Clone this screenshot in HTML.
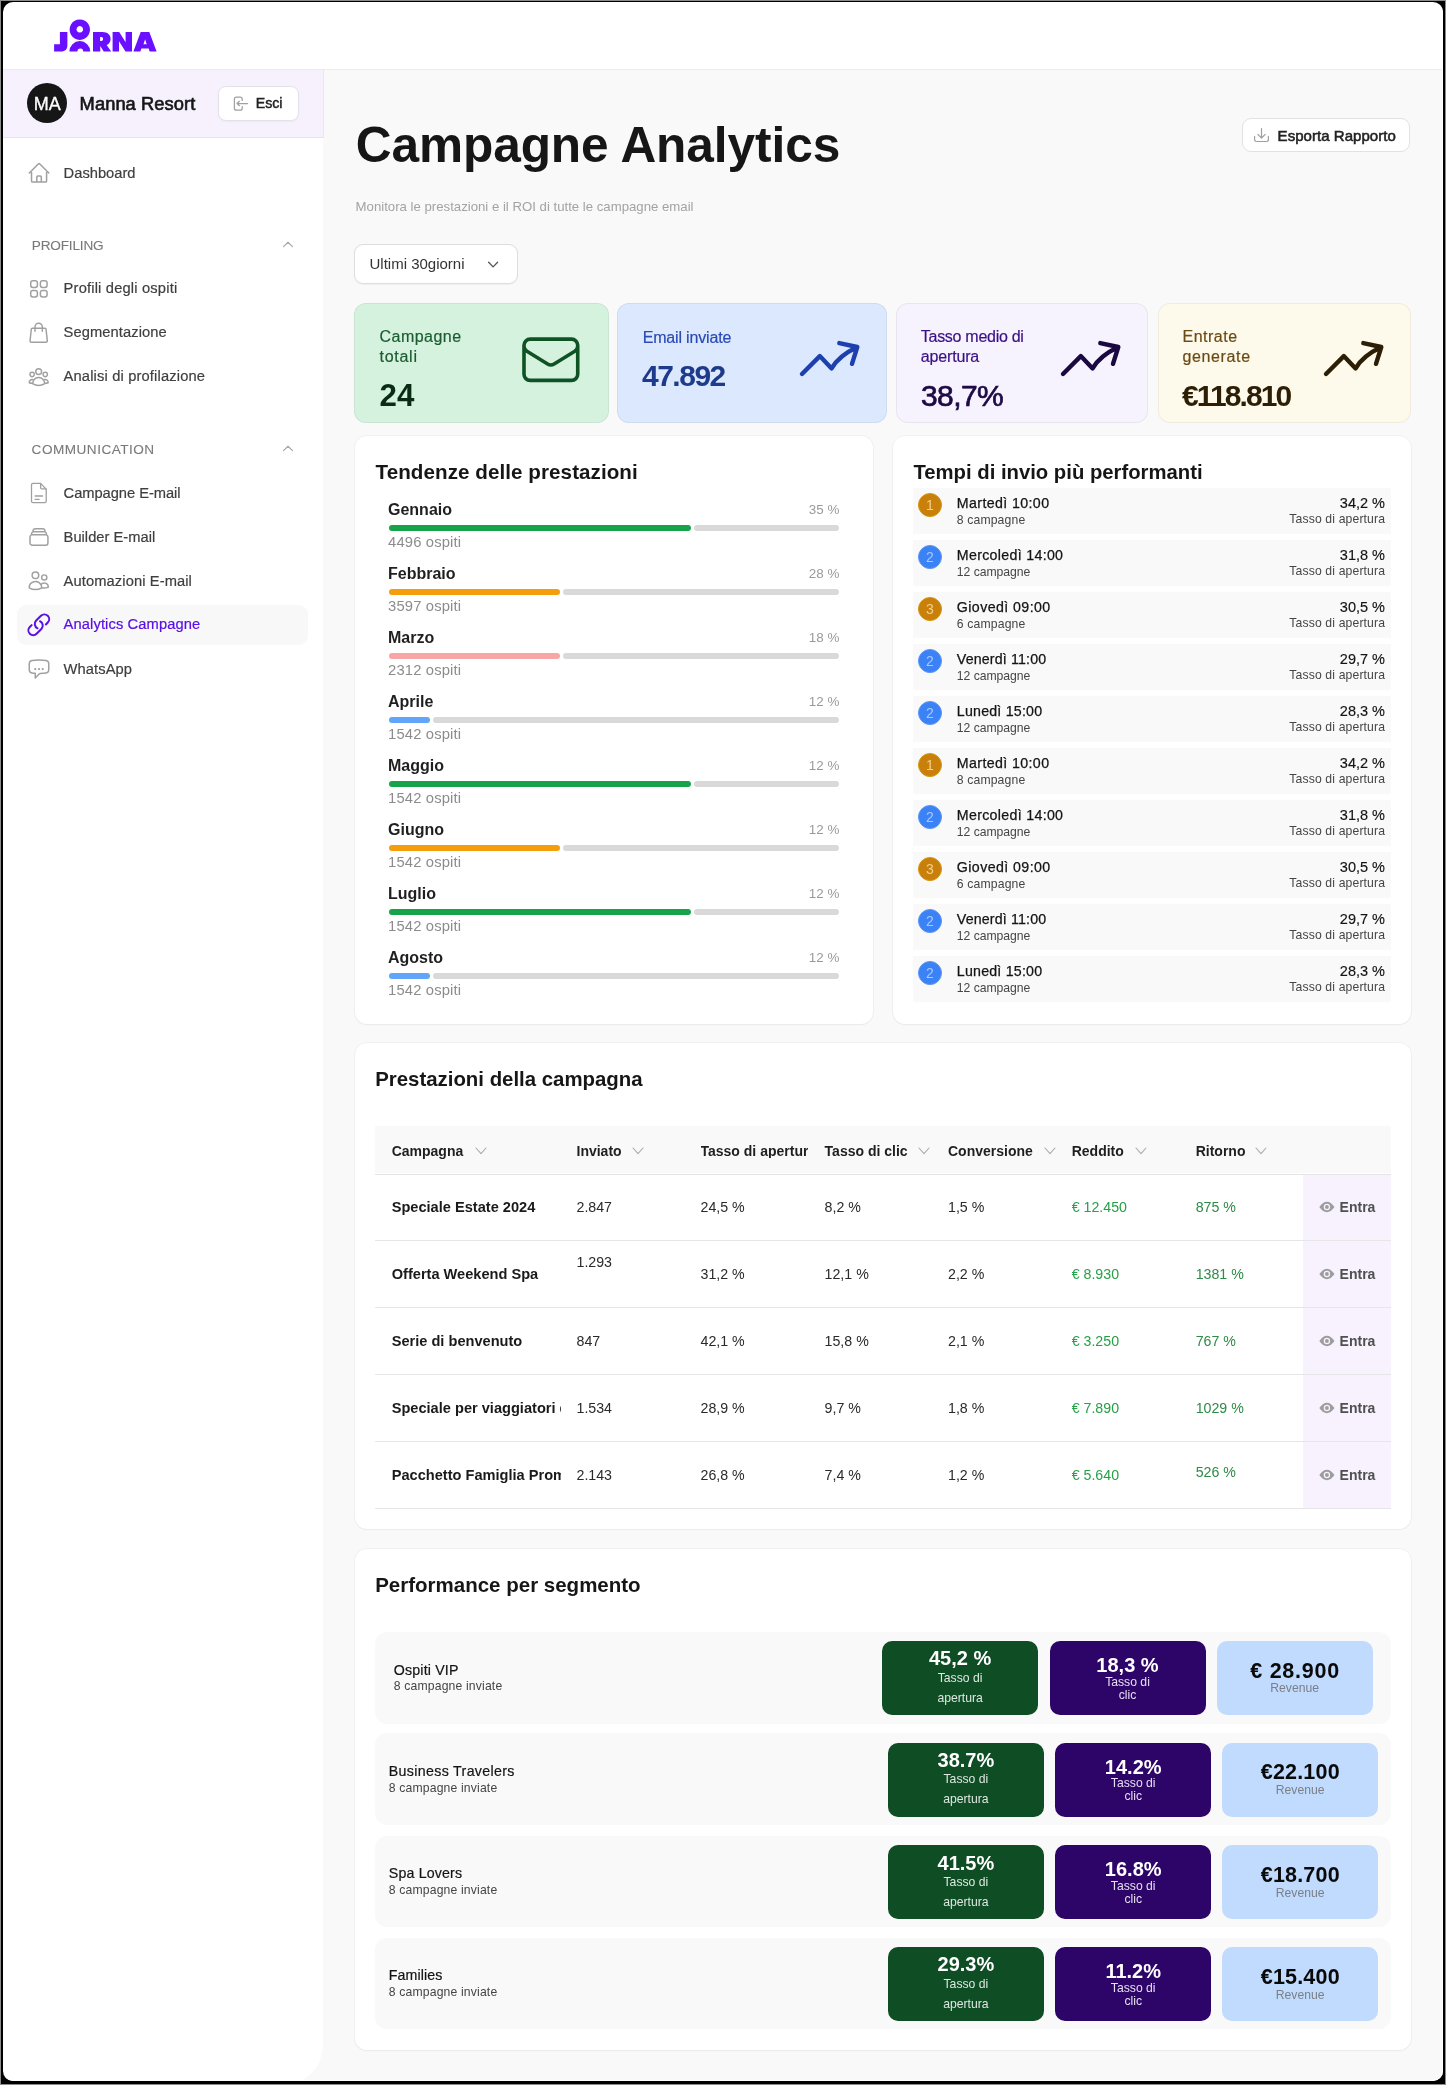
<!DOCTYPE html>
<html><head><meta charset="utf-8"><title>Campagne Analytics</title>
<style>
*{margin:0;padding:0;box-sizing:border-box;}
html,body{width:1446px;height:2085px;overflow:hidden;background:#000;}
body{position:relative;font-family:"Liberation Sans",sans-serif;}
.t{position:absolute;line-height:1;white-space:nowrap;}
#w{position:absolute;left:0;top:0;width:1446px;height:2085px;will-change:transform;}
.r{position:absolute;}
</style></head><body>
<div id="w">
<div class="r" style="left:0.00px;top:0.00px;width:1446.00px;height:2085.00px;background:#f9f9f9;border-radius:0px;"></div>
<div class="r" style="left:0.00px;top:0.00px;width:1446.00px;height:69.00px;background:#ffffff;border-radius:0px;"></div>
<div class="r" style="left:0.00px;top:69.00px;width:1446.00px;height:1.00px;background:#ececec;border-radius:0px;"></div>
<div class="r" style="left:0.00px;top:70.00px;width:323.00px;height:2015.00px;background:#ffffff;border-radius:0px;border-bottom-right-radius:40px;"></div>
<div class="r" style="left:0.00px;top:70.00px;width:323.00px;height:67.00px;background:#f6f1fd;border-radius:0px;"></div>
<div class="r" style="left:0.00px;top:137.00px;width:323.00px;height:1.00px;background:#e6e3ea;border-radius:0px;"></div>
<div class="r" style="left:323.00px;top:69.00px;width:1.00px;height:69.00px;background:#e8e8ea;border-radius:0px;"></div>
<svg class="r" style="left:50.00px;top:15.00px;" width="115" height="42" viewBox="50 15 115 42" fill="none"><g fill="#6a0fff" fill-rule="evenodd">
<path d="M59.9,32 H67.4 V45.5 C67.4,49.3 65,51.5 61.2,51.5 H54.1 V44.3 H59.9 Z"/>
<path d="M79.8,19.5 a10.2,10.2 0 1 1 -0.01,0 Z M79.8,26 a3.3,3.3 0 1 0 0.01,0 Z"/>
<path d="M69.4,51.5 A10.4,10.4 0 0 1 90.2,51.5 Z M77.4,51.5 A2.9,2.9 0 0 1 83.2,51.5 Z"/>
<path d="M93,32 H102.5 C107.6,32 110.6,34.8 110.6,38.9 C110.6,41.9 108.9,44.1 106.6,45.1 L111.2,51.5 H103.7 L100.3,46 V51.5 H93 Z M100.1,37.1 H101.4 C102.5,37.1 103.1,37.9 103.1,39 C103.1,40.1 102.5,40.9 101.4,40.9 H100.1 Z"/>
<path d="M112.6,51.5 V32 H119.2 L125.6,42.2 V32 H132 V51.5 H125.5 L119,41.3 V51.5 Z"/>
<path d="M133.4,51.5 L140.7,32 H149.3 L156.6,51.5 H149.6 L148.7,48.6 H141.3 L140.4,51.5 Z M143.5,44.2 H146.7 L145.1,39.2 Z"/>
</g></svg>
<div class="r" style="left:27.00px;top:83.00px;width:40.00px;height:40.00px;background:#161616;border-radius:20px;"></div>
<div class="t" style="top:95.36px;font-size:18px;color:#ffffff;-webkit-text-stroke:0.3px #ffffff;left:-252.80px;width:600px;text-align:center;">MA</div>
<div class="t" style="top:95.21px;font-size:18.3px;color:#161616;letter-spacing:0.074px;-webkit-text-stroke:0.65px #161616;left:79.60px;">Manna Resort</div>
<div class="r" style="left:217.50px;top:86.00px;width:81.00px;height:35.00px;background:#ffffff;border-radius:8px;border:1px solid #e4e2e8;box-shadow:0 1px 2px rgba(0,0,0,0.04);"></div>
<svg class="r" style="left:228.00px;top:92.00px;" width="26" height="22" viewBox="228 92 26 22" fill="none"><g stroke="#a0a0a0" stroke-width="1.25" stroke-linecap="round" stroke-linejoin="round"><path d="M242.2,100.4 V99 Q242.2,97 240.2,97 H236.4 Q234.4,97 234.4,99 V108.2 Q234.4,110.2 236.4,110.2 H240.2 Q242.2,110.2 242.2,108.2 V106.6"/><path d="M239.4,101.3 L237,103.5 L239.4,105.7 M237.2,103.5 H247.6"/></g></svg>
<div class="t" style="top:96.48px;font-size:14.2px;color:#222;letter-spacing:-0.104px;-webkit-text-stroke:0.45px #222;left:255.80px;">Esci</div>
<svg class="r" style="left:26.89px;top:160.79px;" width="24.119476916980375" height="24.119476916980375" viewBox="0 0 24 24" fill="none"><path d="m2.25 12 8.954-8.955c.44-.439 1.152-.439 1.591 0L21.75 12M4.5 9.75v10.125c0 .621.504 1.125 1.125 1.125H9.75v-4.875c0-.621.504-1.125 1.125-1.125h2.25c.621 0 1.125.504 1.125 1.125V21h4.125c.621 0 1.125-.504 1.125-1.125V9.75M8.25 21h8.25" stroke="#a0a0a0" stroke-width="1.5" stroke-linecap="round" stroke-linejoin="round" fill="none"/></svg>
<div class="t" style="top:165.76px;font-size:14.7px;color:#3f3f3f;letter-spacing:0.003px;-webkit-text-stroke:0.2px #3f3f3f;left:63.60px;">Dashboard</div>
<div class="t" style="top:238.69px;font-size:13.6px;color:#7a7a7a;letter-spacing:-0.171px;-webkit-text-stroke:0.1px #7a7a7a;left:31.80px;">PROFILING</div>
<svg class="r" style="left:280.00px;top:238.00px;" width="16" height="12" viewBox="280 238 16 12" fill="none"><path d="M283.5,246.6 L288,242.3 L292.5,246.6" stroke="#a8a8a8" stroke-width="1.2" fill="none" stroke-linecap="round" stroke-linejoin="round"/></svg>
<svg class="r" style="left:27.03px;top:277.02px;" width="23.799999999999994" height="23.799999999999994" viewBox="0 0 24 24" fill="none"><path d="M3.75 6A2.25 2.25 0 0 1 6 3.75h2.25A2.25 2.25 0 0 1 10.5 6v2.25a2.25 2.25 0 0 1-2.25 2.25H6a2.25 2.25 0 0 1-2.25-2.25V6ZM3.75 15.75A2.25 2.25 0 0 1 6 13.5h2.25a2.25 2.25 0 0 1 2.25 2.25V18a2.25 2.25 0 0 1-2.25 2.25H6A2.25 2.25 0 0 1 3.75 18v-2.25ZM13.5 6a2.25 2.25 0 0 1 2.25-2.25H18A2.25 2.25 0 0 1 20.25 6v2.25A2.25 2.25 0 0 1 18 10.5h-2.25a2.25 2.25 0 0 1-2.25-2.25V6ZM13.5 15.75a2.25 2.25 0 0 1 2.25-2.25H18a2.25 2.25 0 0 1 2.25 2.25V18A2.25 2.25 0 0 1 18 20.25h-2.25A2.25 2.25 0 0 1 13.5 18v-2.25Z" stroke="#a0a0a0" stroke-width="1.5" stroke-linecap="round" stroke-linejoin="round" fill="none"/></svg>
<div class="t" style="top:281.46px;font-size:14.7px;color:#3f3f3f;letter-spacing:0.177px;-webkit-text-stroke:0.2px #3f3f3f;left:63.60px;">Profili degli ospiti</div>
<svg class="r" style="left:27.37px;top:321.14px;" width="23.34464285714284" height="23.34464285714284" viewBox="0 0 24 24" fill="none"><path d="M15.75 10.5V6a3.75 3.75 0 1 0-7.5 0v4.5m11.356-1.993 1.263 12c.07.665-.45 1.243-1.119 1.243H4.25a1.125 1.125 0 0 1-1.12-1.243l1.264-12A1.125 1.125 0 0 1 5.513 7.5h12.974c.576 0 1.059.435 1.119 1.007Z" stroke="#a0a0a0" stroke-width="1.5" stroke-linecap="round" stroke-linejoin="round" fill="none"/></svg>
<div class="t" style="top:325.36px;font-size:14.7px;color:#3f3f3f;letter-spacing:0.092px;-webkit-text-stroke:0.2px #3f3f3f;left:63.60px;">Segmentazione</div>
<svg class="r" style="left:27.14px;top:365.28px;" width="23.36914285714286" height="23.36914285714286" viewBox="0 0 24 24" fill="none"><path d="M18 18.72a9.094 9.094 0 0 0 3.741-.479 3 3 0 0 0-4.682-2.72m.94 3.198.001.031c0 .225-.012.447-.037.666A11.944 11.944 0 0 1 12 21c-2.17 0-4.207-.576-5.963-1.584A6.062 6.062 0 0 1 6 18.719m12 0a5.971 5.971 0 0 0-.941-3.197m0 0A5.995 5.995 0 0 0 12 12.75a5.995 5.995 0 0 0-5.058 2.772m0 0a3 3 0 0 0-4.681 2.72 8.986 8.986 0 0 0 3.74.477m.94-3.197a5.971 5.971 0 0 0-.94 3.197M15 6.75a3 3 0 1 1-6 0 3 3 0 0 1 6 0Zm6 3a2.25 2.25 0 1 1-4.5 0 2.25 2.25 0 0 1 4.5 0Zm-13.5 0a2.25 2.25 0 1 1-4.5 0 2.25 2.25 0 0 1 4.5 0Z" stroke="#a0a0a0" stroke-width="1.5" stroke-linecap="round" stroke-linejoin="round" fill="none"/></svg>
<div class="t" style="top:369.36px;font-size:14.7px;color:#3f3f3f;letter-spacing:0.154px;-webkit-text-stroke:0.2px #3f3f3f;left:63.60px;">Analisi di profilazione</div>
<div class="t" style="top:442.59px;font-size:13.6px;color:#7a7a7a;letter-spacing:0.477px;-webkit-text-stroke:0.1px #7a7a7a;left:31.60px;">COMMUNICATION</div>
<svg class="r" style="left:280.00px;top:442.00px;" width="16" height="12" viewBox="280 442 16 12" fill="none"><path d="M283.5,450.6 L288,446.3 L292.5,450.6" stroke="#a8a8a8" stroke-width="1.2" fill="none" stroke-linecap="round" stroke-linejoin="round"/></svg>
<svg class="r" style="left:28.00px;top:480.00px;" width="22" height="26" viewBox="28 480 22 26" fill="none"><g stroke="#a0a0a0" stroke-width="1.3" fill="none" stroke-linecap="round" stroke-linejoin="round"><path d="M33,483.4 H40.6 L46.2,489.2 V501.2 Q46.2,502.7 44.7,502.7 H33 Q31.5,502.7 31.5,501.2 V484.9 Q31.5,483.4 33,483.4 Z"/><path d="M40.6,483.6 V487.6 Q40.6,488.9 41.9,488.9 H46"/><path d="M35.1,496 H42.6 M35.1,499.3 H39.2"/></g></svg>
<div class="t" style="top:485.56px;font-size:14.7px;color:#3f3f3f;letter-spacing:-0.041px;-webkit-text-stroke:0.2px #3f3f3f;left:63.60px;">Campagne E-mail</div>
<svg class="r" style="left:27.06px;top:525.01px;" width="23.928205128205096" height="23.928205128205096" viewBox="0 0 24 24" fill="none"><path d="M6 6.878V6a2.25 2.25 0 0 1 2.25-2.25h7.5A2.25 2.25 0 0 1 18 6v.878m-12 0c.235-.083.487-.128.75-.128h10.5c.263 0 .515.045.75.128m-12 0A2.25 2.25 0 0 0 4.5 9v.878m13.5-3A2.25 2.25 0 0 1 19.5 9v.878m0 0a2.246 2.246 0 0 0-.75-.128H5.25c-.263 0-.515.045-.75.128m15 0A2.25 2.25 0 0 1 21 12v6a2.25 2.25 0 0 1-2.25 2.25H5.25A2.25 2.25 0 0 1 3 18v-6c0-.98.626-1.813 1.5-2.122" stroke="#a0a0a0" stroke-width="1.5" stroke-linecap="round" stroke-linejoin="round" fill="none"/></svg>
<div class="t" style="top:529.56px;font-size:14.7px;color:#3f3f3f;letter-spacing:0.012px;-webkit-text-stroke:0.2px #3f3f3f;left:63.60px;">Builder E-mail</div>
<svg class="r" style="left:26.93px;top:569.40px;" width="23.507692307692267" height="23.507692307692267" viewBox="0 0 24 24" fill="none"><path d="M15 19.128a9.38 9.38 0 0 0 2.625.372 9.337 9.337 0 0 0 4.121-.952 4.125 4.125 0 0 0-7.533-2.493M15 19.128v-.003c0-1.113-.285-2.16-.786-3.07M15 19.128v.106A12.318 12.318 0 0 1 8.624 21c-2.331 0-4.512-.645-6.374-1.766l-.001-.109a6.375 6.375 0 0 1 11.964-3.07M12 6.375a3.375 3.375 0 1 1-6.75 0 3.375 3.375 0 0 1 6.75 0Zm8.25 2.25a2.625 2.625 0 1 1-5.25 0 2.625 2.625 0 0 1 5.25 0Z" stroke="#a0a0a0" stroke-width="1.5" stroke-linecap="round" stroke-linejoin="round" fill="none"/></svg>
<div class="t" style="top:573.56px;font-size:14.7px;color:#3f3f3f;letter-spacing:0.103px;-webkit-text-stroke:0.2px #3f3f3f;left:63.60px;">Automazioni E-mail</div>
<div class="r" style="left:17.00px;top:605.00px;width:291.00px;height:40.00px;background:#f8f8f8;border-radius:9px;"></div>
<svg class="r" style="left:26.17px;top:612.27px;" width="25.56000000000001" height="25.56000000000001" viewBox="0 0 24 24" fill="none"><path d="M13.19 8.688a4.5 4.5 0 0 1 1.242 7.244l-4.5 4.5a4.5 4.5 0 0 1-6.364-6.364l1.757-1.757m13.35-.622 1.757-1.757a4.5 4.5 0 0 0-6.364-6.364l-4.5 4.5a4.5 4.5 0 0 0 1.242 7.244" stroke="#5b10e6" stroke-width="1.9" stroke-linecap="round" stroke-linejoin="round" fill="none"/></svg>
<div class="t" style="top:617.26px;font-size:14.7px;color:#5b10e6;letter-spacing:0.116px;-webkit-text-stroke:0.2px #5b10e6;left:63.60px;">Analytics Campagne</div>
<svg class="r" style="left:26.90px;top:656.95px;" width="24.0" height="24.0" viewBox="0 0 24 24" fill="none"><path d="M8.625 12a.375.375 0 1 1-.75 0 .375.375 0 0 1 .75 0Zm0 0H8.25m4.125 0a.375.375 0 1 1-.75 0 .375.375 0 0 1 .75 0Zm0 0H12m4.125 0a.375.375 0 1 1-.75 0 .375.375 0 0 1 .75 0Zm0 0h-.375M2.25 12.76c0 1.6 1.123 2.994 2.707 3.227 1.087.16 2.185.283 3.293.369V21l4.184-4.183a1.14 1.14 0 0 1 .778-.332 48.294 48.294 0 0 0 5.83-.498c1.585-.233 2.708-1.626 2.708-3.228V6.741c0-1.602-1.123-2.995-2.707-3.228A48.394 48.394 0 0 0 12 3c-2.392 0-4.744.175-7.043.513C3.373 3.746 2.25 5.14 2.25 6.741v6.018Z" stroke="#a0a0a0" stroke-width="1.5" stroke-linecap="round" stroke-linejoin="round" fill="none"/></svg>
<div class="t" style="top:661.56px;font-size:14.7px;color:#3f3f3f;letter-spacing:0.091px;-webkit-text-stroke:0.2px #3f3f3f;left:63.60px;">WhatsApp</div>
<div class="t" style="top:121.01px;font-size:49.6px;color:#161616;font-weight:700;letter-spacing:-0.086px;left:355.70px;">Campagne Analytics</div>
<div class="t" style="top:200.43px;font-size:13.2px;color:#a3a3a3;left:355.60px;">Monitora le prestazioni e il ROI di tutte le campagne email</div>
<div class="r" style="left:354.30px;top:244.30px;width:163.50px;height:39.40px;background:#ffffff;border-radius:9px;border:1px solid #dddddd;box-shadow:0 1px 1px rgba(0,0,0,0.04);"></div>
<div class="t" style="top:256.20px;font-size:15px;color:#333333;left:369.50px;">Ultimi 30giorni</div>
<svg class="r" style="left:485.00px;top:258.00px;" width="16" height="12" viewBox="485 258 16 12" fill="none"><path d="M488.6,262.2 L493.1,266.9 L497.6,262.2" stroke="#555" stroke-width="1.3" fill="none" stroke-linecap="round" stroke-linejoin="round"/></svg>
<div class="r" style="left:1241.50px;top:117.50px;width:168.00px;height:34.80px;background:#ffffff;border-radius:9px;border:1px solid #e2e2e2;"></div>
<svg class="r" style="left:1250.00px;top:124.00px;" width="24" height="22" viewBox="1250 124 24 22" fill="none"><path d="M1254.6,136.4 V139.6 Q1254.6,141.5 1256.5,141.5 H1266.5 Q1268.4,141.5 1268.4,139.6 V136.4 M1261.5,128.6 V138 M1257.8,134.3 L1261.5,138 L1265.2,134.3" stroke="#a0a0a0" stroke-width="1.2" fill="none" stroke-linecap="round" stroke-linejoin="round"/></svg>
<div class="t" style="top:127.50px;font-size:15px;color:#222222;letter-spacing:0.04px;-webkit-text-stroke:0.55px #222222;left:1277.60px;">Esporta Rapporto</div>
<div class="r" style="left:354.30px;top:302.50px;width:254.40px;height:120.80px;background:#d5f2df;border-radius:12px;border:1px solid rgba(0,0,0,0.055);"></div>
<div class="r" style="left:617.40px;top:302.50px;width:269.40px;height:120.80px;background:#dbe8fd;border-radius:12px;border:1px solid rgba(0,0,0,0.055);"></div>
<div class="r" style="left:895.70px;top:302.50px;width:252.70px;height:120.80px;background:#f7f3fe;border-radius:12px;border:1px solid rgba(0,0,0,0.055);"></div>
<div class="r" style="left:1157.70px;top:302.50px;width:253.70px;height:120.80px;background:#fefaeb;border-radius:12px;border:1px solid rgba(0,0,0,0.055);"></div>
<div class="t" style="top:329.26px;font-size:16px;color:#1c5c30;letter-spacing:0.482px;-webkit-text-stroke:0.2px #1c5c30;left:379.50px;">Campagne</div>
<div class="t" style="top:349.26px;font-size:16px;color:#1c5c30;letter-spacing:0.731px;-webkit-text-stroke:0.2px #1c5c30;left:379.50px;">totali</div>
<div class="t" style="top:379.80px;font-size:31.3px;color:#0b2b15;font-weight:700;left:379.50px;">24</div>
<svg class="r" style="left:518.00px;top:333.00px;" width="66" height="54" viewBox="518 333 66 54" fill="none"><path transform="translate(517.80,326.70) scale(2.755)" d="M21.75 6.75v10.5a2.25 2.25 0 0 1-2.25 2.25h-15a2.25 2.25 0 0 1-2.25-2.25V6.75m19.5 0A2.25 2.25 0 0 0 19.5 4.5h-15a2.25 2.25 0 0 0-2.25 2.25m19.5 0v.243a2.25 2.25 0 0 1-1.07 1.916l-7.5 4.615a2.25 2.25 0 0 1-2.36 0L3.32 8.91a2.25 2.25 0 0 1-1.07-1.916V6.75" stroke="#0f5224" stroke-width="1.307" fill="none" stroke-linecap="round" stroke-linejoin="round"/></svg>
<div class="t" style="top:329.56px;font-size:16px;color:#2c4ab6;letter-spacing:-0.173px;-webkit-text-stroke:0.2px #2c4ab6;left:642.70px;">Email inviate</div>
<div class="t" style="top:360.91px;font-size:30px;color:#1e3a8a;font-weight:700;letter-spacing:-1.5px;left:642.00px;">47.892</div>
<div class="t" style="top:329.26px;font-size:16px;color:#3a1086;letter-spacing:-0.278px;-webkit-text-stroke:0.2px #3a1086;left:920.80px;">Tasso medio di</div>
<div class="t" style="top:349.26px;font-size:16px;color:#3a1086;letter-spacing:-0.163px;-webkit-text-stroke:0.2px #3a1086;left:920.80px;">apertura</div>
<div class="t" style="top:380.91px;font-size:30px;color:#1e0a45;letter-spacing:-0.6px;-webkit-text-stroke:0.7px #1e0a45;left:921.00px;">38,7%</div>
<div class="t" style="top:329.26px;font-size:16px;color:#6b4a14;letter-spacing:0.496px;-webkit-text-stroke:0.2px #6b4a14;left:1182.50px;">Entrate</div>
<div class="t" style="top:349.26px;font-size:16px;color:#6b4a14;letter-spacing:0.626px;-webkit-text-stroke:0.2px #6b4a14;left:1182.50px;">generate</div>
<div class="t" style="top:380.91px;font-size:30px;color:#2d1e06;font-weight:700;letter-spacing:-1.9px;left:1182.00px;">€118.810</div>
<svg class="r" style="left:796.50px;top:337.20px;" width="66" height="42" viewBox="796.5 337.2 66 42" fill="none"><path d="M801.5,374.2 L819.3,356.3 L831.1,368.6 Q838.0,356.2 856.8,347.2 M838.8,343.3 L856.8,347.2 L851.5,364.0" stroke="#1e40af" stroke-width="4.4" fill="none" stroke-linecap="round" stroke-linejoin="round"/></svg>
<svg class="r" style="left:1058.20px;top:337.40px;" width="66" height="42" viewBox="1058.2 337.4 66 42" fill="none"><path d="M1063.2,374.4 L1081.0,356.5 L1092.8,368.8 Q1099.7,356.4 1118.5,347.4 M1100.5,343.5 L1118.5,347.4 L1113.2,364.2" stroke="#1a0841" stroke-width="4.4" fill="none" stroke-linecap="round" stroke-linejoin="round"/></svg>
<svg class="r" style="left:1321.20px;top:337.40px;" width="66" height="42" viewBox="1321.2 337.4 66 42" fill="none"><path d="M1326.2,374.4 L1344.0,356.5 L1355.8,368.8 Q1362.7,356.4 1381.5,347.4 M1363.5,343.5 L1381.5,347.4 L1376.2,364.2" stroke="#2d1e06" stroke-width="4.4" fill="none" stroke-linecap="round" stroke-linejoin="round"/></svg>
<div class="r" style="left:355.00px;top:436.00px;width:518.00px;height:587.50px;background:#ffffff;border-radius:12px;box-shadow:0 0 0 1px rgba(0,0,0,0.03), 0 1px 2px rgba(0,0,0,0.035);"></div>
<div class="t" style="top:461.76px;font-size:20.6px;color:#161616;font-weight:700;letter-spacing:0.064px;left:375.60px;">Tendenze delle prestazioni</div>
<div class="t" style="top:502.46px;font-size:16px;color:#1f1f1f;font-weight:700;left:388.00px;">Gennaio</div>
<div class="t" style="top:503.26px;font-size:13.4px;color:#9a9a9a;right:606.70px;text-align:right;">35 %</div>
<div class="r" style="left:388.60px;top:524.70px;width:302.90px;height:6.10px;background:#16a34a;border-radius:3px;"></div>
<div class="r" style="left:694.40px;top:524.70px;width:144.90px;height:6.10px;background:#d9d9d9;border-radius:3px;"></div>
<div class="t" style="top:534.77px;font-size:14.8px;color:#8c8c8c;letter-spacing:0.15px;left:388.00px;">4496 ospiti</div>
<div class="t" style="top:566.46px;font-size:16px;color:#1f1f1f;font-weight:700;left:388.00px;">Febbraio</div>
<div class="t" style="top:567.26px;font-size:13.4px;color:#9a9a9a;right:606.70px;text-align:right;">28 %</div>
<div class="r" style="left:388.60px;top:588.70px;width:171.10px;height:6.10px;background:#f59e0b;border-radius:3px;"></div>
<div class="r" style="left:562.60px;top:588.70px;width:276.70px;height:6.10px;background:#d9d9d9;border-radius:3px;"></div>
<div class="t" style="top:598.77px;font-size:14.8px;color:#8c8c8c;letter-spacing:0.15px;left:388.00px;">3597 ospiti</div>
<div class="t" style="top:630.46px;font-size:16px;color:#1f1f1f;font-weight:700;left:388.00px;">Marzo</div>
<div class="t" style="top:631.26px;font-size:13.4px;color:#9a9a9a;right:606.70px;text-align:right;">18 %</div>
<div class="r" style="left:388.60px;top:652.70px;width:171.10px;height:6.10px;background:#f8a5a5;border-radius:3px;"></div>
<div class="r" style="left:562.60px;top:652.70px;width:276.70px;height:6.10px;background:#d9d9d9;border-radius:3px;"></div>
<div class="t" style="top:662.77px;font-size:14.8px;color:#8c8c8c;letter-spacing:0.15px;left:388.00px;">2312 ospiti</div>
<div class="t" style="top:694.46px;font-size:16px;color:#1f1f1f;font-weight:700;left:388.00px;">Aprile</div>
<div class="t" style="top:695.26px;font-size:13.4px;color:#9a9a9a;right:606.70px;text-align:right;">12 %</div>
<div class="r" style="left:388.60px;top:716.70px;width:41.30px;height:6.10px;background:#60a5fa;border-radius:3px;"></div>
<div class="r" style="left:432.80px;top:716.70px;width:406.50px;height:6.10px;background:#d9d9d9;border-radius:3px;"></div>
<div class="t" style="top:726.77px;font-size:14.8px;color:#8c8c8c;letter-spacing:0.15px;left:388.00px;">1542 ospiti</div>
<div class="t" style="top:758.46px;font-size:16px;color:#1f1f1f;font-weight:700;left:388.00px;">Maggio</div>
<div class="t" style="top:759.26px;font-size:13.4px;color:#9a9a9a;right:606.70px;text-align:right;">12 %</div>
<div class="r" style="left:388.60px;top:780.70px;width:302.90px;height:6.10px;background:#16a34a;border-radius:3px;"></div>
<div class="r" style="left:694.40px;top:780.70px;width:144.90px;height:6.10px;background:#d9d9d9;border-radius:3px;"></div>
<div class="t" style="top:790.77px;font-size:14.8px;color:#8c8c8c;letter-spacing:0.15px;left:388.00px;">1542 ospiti</div>
<div class="t" style="top:822.46px;font-size:16px;color:#1f1f1f;font-weight:700;left:388.00px;">Giugno</div>
<div class="t" style="top:823.26px;font-size:13.4px;color:#9a9a9a;right:606.70px;text-align:right;">12 %</div>
<div class="r" style="left:388.60px;top:844.70px;width:171.10px;height:6.10px;background:#f59e0b;border-radius:3px;"></div>
<div class="r" style="left:562.60px;top:844.70px;width:276.70px;height:6.10px;background:#d9d9d9;border-radius:3px;"></div>
<div class="t" style="top:854.77px;font-size:14.8px;color:#8c8c8c;letter-spacing:0.15px;left:388.00px;">1542 ospiti</div>
<div class="t" style="top:886.46px;font-size:16px;color:#1f1f1f;font-weight:700;left:388.00px;">Luglio</div>
<div class="t" style="top:887.26px;font-size:13.4px;color:#9a9a9a;right:606.70px;text-align:right;">12 %</div>
<div class="r" style="left:388.60px;top:908.70px;width:302.90px;height:6.10px;background:#16a34a;border-radius:3px;"></div>
<div class="r" style="left:694.40px;top:908.70px;width:144.90px;height:6.10px;background:#d9d9d9;border-radius:3px;"></div>
<div class="t" style="top:918.77px;font-size:14.8px;color:#8c8c8c;letter-spacing:0.15px;left:388.00px;">1542 ospiti</div>
<div class="t" style="top:950.46px;font-size:16px;color:#1f1f1f;font-weight:700;left:388.00px;">Agosto</div>
<div class="t" style="top:951.26px;font-size:13.4px;color:#9a9a9a;right:606.70px;text-align:right;">12 %</div>
<div class="r" style="left:388.60px;top:972.70px;width:41.30px;height:6.10px;background:#60a5fa;border-radius:3px;"></div>
<div class="r" style="left:432.80px;top:972.70px;width:406.50px;height:6.10px;background:#d9d9d9;border-radius:3px;"></div>
<div class="t" style="top:982.77px;font-size:14.8px;color:#8c8c8c;letter-spacing:0.15px;left:388.00px;">1542 ospiti</div>
<div class="r" style="left:893.00px;top:436.00px;width:518.00px;height:587.50px;background:#ffffff;border-radius:12px;box-shadow:0 0 0 1px rgba(0,0,0,0.03), 0 1px 2px rgba(0,0,0,0.035);"></div>
<div class="t" style="top:461.82px;font-size:20.3px;color:#161616;font-weight:700;left:913.40px;">Tempi di invio più performanti</div>
<div class="r" style="left:912.90px;top:488.00px;width:478.00px;height:46.40px;background:#f9f9f9;border-radius:0px;"></div>
<div class="r" style="left:918.00px;top:493.00px;width:24.00px;height:24.00px;background:#c8800a;border-radius:12px;border:1px solid #d6950f;"></div>
<div class="t" style="top:498.35px;font-size:14px;color:#f3cf8c;left:630.00px;width:600px;text-align:center;">1</div>
<div class="t" style="top:495.68px;font-size:14.2px;color:#141414;letter-spacing:0.39px;-webkit-text-stroke:0.25px #141414;left:956.80px;">Martedì 10:00</div>
<div class="t" style="top:513.57px;font-size:12.2px;color:#454545;letter-spacing:0.143px;left:956.80px;">8 campagne</div>
<div class="t" style="top:496.23px;font-size:14.5px;color:#141414;-webkit-text-stroke:0.15px #141414;right:61.00px;text-align:right;">34,2 %</div>
<div class="t" style="top:512.87px;font-size:12.2px;color:#454545;letter-spacing:0.136px;right:60.86px;text-align:right;">Tasso di apertura</div>
<div class="r" style="left:912.90px;top:540.00px;width:478.00px;height:46.40px;background:#f9f9f9;border-radius:0px;"></div>
<div class="r" style="left:918.00px;top:545.00px;width:24.00px;height:24.00px;background:#3b82f6;border-radius:12px;border:1px solid #5b95f5;"></div>
<div class="t" style="top:550.35px;font-size:14px;color:#a8c8fb;left:630.00px;width:600px;text-align:center;">2</div>
<div class="t" style="top:547.68px;font-size:14.2px;color:#141414;letter-spacing:0.32px;-webkit-text-stroke:0.25px #141414;left:956.80px;">Mercoledì 14:00</div>
<div class="t" style="top:565.57px;font-size:12.2px;color:#454545;letter-spacing:-0.029px;left:956.80px;">12 campagne</div>
<div class="t" style="top:548.23px;font-size:14.5px;color:#141414;-webkit-text-stroke:0.15px #141414;right:61.00px;text-align:right;">31,8 %</div>
<div class="t" style="top:564.87px;font-size:12.2px;color:#454545;letter-spacing:0.136px;right:60.86px;text-align:right;">Tasso di apertura</div>
<div class="r" style="left:912.90px;top:592.00px;width:478.00px;height:46.40px;background:#f9f9f9;border-radius:0px;"></div>
<div class="r" style="left:918.00px;top:597.00px;width:24.00px;height:24.00px;background:#c8800a;border-radius:12px;border:1px solid #d6950f;"></div>
<div class="t" style="top:602.35px;font-size:14px;color:#f3cf8c;left:630.00px;width:600px;text-align:center;">3</div>
<div class="t" style="top:599.68px;font-size:14.2px;color:#141414;letter-spacing:0.423px;-webkit-text-stroke:0.25px #141414;left:956.80px;">Giovedì 09:00</div>
<div class="t" style="top:617.57px;font-size:12.2px;color:#454545;letter-spacing:0.155px;left:956.80px;">6 campagne</div>
<div class="t" style="top:600.23px;font-size:14.5px;color:#141414;-webkit-text-stroke:0.15px #141414;right:61.00px;text-align:right;">30,5 %</div>
<div class="t" style="top:616.87px;font-size:12.2px;color:#454545;letter-spacing:0.136px;right:60.86px;text-align:right;">Tasso di apertura</div>
<div class="r" style="left:912.90px;top:644.00px;width:478.00px;height:46.40px;background:#f9f9f9;border-radius:0px;"></div>
<div class="r" style="left:918.00px;top:649.00px;width:24.00px;height:24.00px;background:#3b82f6;border-radius:12px;border:1px solid #5b95f5;"></div>
<div class="t" style="top:654.35px;font-size:14px;color:#a8c8fb;left:630.00px;width:600px;text-align:center;">2</div>
<div class="t" style="top:651.68px;font-size:14.2px;color:#141414;letter-spacing:0.175px;-webkit-text-stroke:0.25px #141414;left:956.80px;">Venerdì 11:00</div>
<div class="t" style="top:669.57px;font-size:12.2px;color:#454545;letter-spacing:-0.029px;left:956.80px;">12 campagne</div>
<div class="t" style="top:652.23px;font-size:14.5px;color:#141414;-webkit-text-stroke:0.15px #141414;right:61.00px;text-align:right;">29,7 %</div>
<div class="t" style="top:668.87px;font-size:12.2px;color:#454545;letter-spacing:0.136px;right:60.86px;text-align:right;">Tasso di apertura</div>
<div class="r" style="left:912.90px;top:696.00px;width:478.00px;height:46.40px;background:#f9f9f9;border-radius:0px;"></div>
<div class="r" style="left:918.00px;top:701.00px;width:24.00px;height:24.00px;background:#3b82f6;border-radius:12px;border:1px solid #5b95f5;"></div>
<div class="t" style="top:706.35px;font-size:14px;color:#a8c8fb;left:630.00px;width:600px;text-align:center;">2</div>
<div class="t" style="top:703.68px;font-size:14.2px;color:#141414;letter-spacing:0.225px;-webkit-text-stroke:0.25px #141414;left:956.80px;">Lunedì 15:00</div>
<div class="t" style="top:721.57px;font-size:12.2px;color:#454545;letter-spacing:-0.029px;left:956.80px;">12 campagne</div>
<div class="t" style="top:704.23px;font-size:14.5px;color:#141414;-webkit-text-stroke:0.15px #141414;right:61.00px;text-align:right;">28,3 %</div>
<div class="t" style="top:720.87px;font-size:12.2px;color:#454545;letter-spacing:0.136px;right:60.86px;text-align:right;">Tasso di apertura</div>
<div class="r" style="left:912.90px;top:748.00px;width:478.00px;height:46.40px;background:#f9f9f9;border-radius:0px;"></div>
<div class="r" style="left:918.00px;top:753.00px;width:24.00px;height:24.00px;background:#c8800a;border-radius:12px;border:1px solid #d6950f;"></div>
<div class="t" style="top:758.35px;font-size:14px;color:#f3cf8c;left:630.00px;width:600px;text-align:center;">1</div>
<div class="t" style="top:755.68px;font-size:14.2px;color:#141414;letter-spacing:0.39px;-webkit-text-stroke:0.25px #141414;left:956.80px;">Martedì 10:00</div>
<div class="t" style="top:773.57px;font-size:12.2px;color:#454545;letter-spacing:0.143px;left:956.80px;">8 campagne</div>
<div class="t" style="top:756.23px;font-size:14.5px;color:#141414;-webkit-text-stroke:0.15px #141414;right:61.00px;text-align:right;">34,2 %</div>
<div class="t" style="top:772.87px;font-size:12.2px;color:#454545;letter-spacing:0.136px;right:60.86px;text-align:right;">Tasso di apertura</div>
<div class="r" style="left:912.90px;top:800.00px;width:478.00px;height:46.40px;background:#f9f9f9;border-radius:0px;"></div>
<div class="r" style="left:918.00px;top:805.00px;width:24.00px;height:24.00px;background:#3b82f6;border-radius:12px;border:1px solid #5b95f5;"></div>
<div class="t" style="top:810.35px;font-size:14px;color:#a8c8fb;left:630.00px;width:600px;text-align:center;">2</div>
<div class="t" style="top:807.68px;font-size:14.2px;color:#141414;letter-spacing:0.32px;-webkit-text-stroke:0.25px #141414;left:956.80px;">Mercoledì 14:00</div>
<div class="t" style="top:825.57px;font-size:12.2px;color:#454545;letter-spacing:-0.029px;left:956.80px;">12 campagne</div>
<div class="t" style="top:808.23px;font-size:14.5px;color:#141414;-webkit-text-stroke:0.15px #141414;right:61.00px;text-align:right;">31,8 %</div>
<div class="t" style="top:824.87px;font-size:12.2px;color:#454545;letter-spacing:0.136px;right:60.86px;text-align:right;">Tasso di apertura</div>
<div class="r" style="left:912.90px;top:852.00px;width:478.00px;height:46.40px;background:#f9f9f9;border-radius:0px;"></div>
<div class="r" style="left:918.00px;top:857.00px;width:24.00px;height:24.00px;background:#c8800a;border-radius:12px;border:1px solid #d6950f;"></div>
<div class="t" style="top:862.35px;font-size:14px;color:#f3cf8c;left:630.00px;width:600px;text-align:center;">3</div>
<div class="t" style="top:859.68px;font-size:14.2px;color:#141414;letter-spacing:0.423px;-webkit-text-stroke:0.25px #141414;left:956.80px;">Giovedì 09:00</div>
<div class="t" style="top:877.57px;font-size:12.2px;color:#454545;letter-spacing:0.155px;left:956.80px;">6 campagne</div>
<div class="t" style="top:860.23px;font-size:14.5px;color:#141414;-webkit-text-stroke:0.15px #141414;right:61.00px;text-align:right;">30,5 %</div>
<div class="t" style="top:876.87px;font-size:12.2px;color:#454545;letter-spacing:0.136px;right:60.86px;text-align:right;">Tasso di apertura</div>
<div class="r" style="left:912.90px;top:904.00px;width:478.00px;height:46.40px;background:#f9f9f9;border-radius:0px;"></div>
<div class="r" style="left:918.00px;top:909.00px;width:24.00px;height:24.00px;background:#3b82f6;border-radius:12px;border:1px solid #5b95f5;"></div>
<div class="t" style="top:914.35px;font-size:14px;color:#a8c8fb;left:630.00px;width:600px;text-align:center;">2</div>
<div class="t" style="top:911.68px;font-size:14.2px;color:#141414;letter-spacing:0.175px;-webkit-text-stroke:0.25px #141414;left:956.80px;">Venerdì 11:00</div>
<div class="t" style="top:929.57px;font-size:12.2px;color:#454545;letter-spacing:-0.029px;left:956.80px;">12 campagne</div>
<div class="t" style="top:912.23px;font-size:14.5px;color:#141414;-webkit-text-stroke:0.15px #141414;right:61.00px;text-align:right;">29,7 %</div>
<div class="t" style="top:928.87px;font-size:12.2px;color:#454545;letter-spacing:0.136px;right:60.86px;text-align:right;">Tasso di apertura</div>
<div class="r" style="left:912.90px;top:956.00px;width:478.00px;height:46.40px;background:#f9f9f9;border-radius:0px;"></div>
<div class="r" style="left:918.00px;top:961.00px;width:24.00px;height:24.00px;background:#3b82f6;border-radius:12px;border:1px solid #5b95f5;"></div>
<div class="t" style="top:966.35px;font-size:14px;color:#a8c8fb;left:630.00px;width:600px;text-align:center;">2</div>
<div class="t" style="top:963.68px;font-size:14.2px;color:#141414;letter-spacing:0.225px;-webkit-text-stroke:0.25px #141414;left:956.80px;">Lunedì 15:00</div>
<div class="t" style="top:981.57px;font-size:12.2px;color:#454545;letter-spacing:-0.029px;left:956.80px;">12 campagne</div>
<div class="t" style="top:964.23px;font-size:14.5px;color:#141414;-webkit-text-stroke:0.15px #141414;right:61.00px;text-align:right;">28,3 %</div>
<div class="t" style="top:980.87px;font-size:12.2px;color:#454545;letter-spacing:0.136px;right:60.86px;text-align:right;">Tasso di apertura</div>
<div class="r" style="left:355.00px;top:1043.00px;width:1056.00px;height:486.00px;background:#ffffff;border-radius:12px;box-shadow:0 0 0 1px rgba(0,0,0,0.03), 0 1px 2px rgba(0,0,0,0.035);"></div>
<div class="t" style="top:1068.93px;font-size:20.4px;color:#161616;font-weight:700;left:375.20px;">Prestazioni della campagna</div>
<div class="r" style="left:375.00px;top:1126.30px;width:1016.00px;height:47.20px;background:#f9f9f9;border-radius:0px;"></div>
<div class="r" style="left:375.00px;top:1173.50px;width:1016.00px;height:1.00px;background:#e4e4e4;border-radius:0px;"></div>
<div class="t" style="top:1143.55px;font-size:14px;color:#1f1f1f;font-weight:700;left:391.70px;">Campagna</div>
<svg class="r" style="left:474.00px;top:1146.00px;" width="14" height="10" viewBox="474 1146 14 10" fill="none"><path d="M476,1148 L481,1153.6 L486,1148" stroke="#ababab" stroke-width="1.1" fill="none" stroke-linecap="round" stroke-linejoin="round"/></svg>
<div class="t" style="top:1143.55px;font-size:14px;color:#1f1f1f;font-weight:700;left:576.50px;">Inviato</div>
<svg class="r" style="left:631.00px;top:1146.00px;" width="14" height="10" viewBox="631 1146 14 10" fill="none"><path d="M633,1148 L638,1153.6 L643,1148" stroke="#ababab" stroke-width="1.1" fill="none" stroke-linecap="round" stroke-linejoin="round"/></svg>
<div class="t" style="top:1143.55px;font-size:14px;color:#1f1f1f;font-weight:700;left:700.50px;width:107px;overflow:hidden;">Tasso di apertura</div>
<div class="t" style="top:1143.55px;font-size:14px;color:#1f1f1f;font-weight:700;left:824.60px;">Tasso di clic</div>
<svg class="r" style="left:916.60px;top:1146.00px;" width="14" height="10" viewBox="916.6 1146 14 10" fill="none"><path d="M918.6,1148 L923.6,1153.6 L928.6,1148" stroke="#ababab" stroke-width="1.1" fill="none" stroke-linecap="round" stroke-linejoin="round"/></svg>
<div class="t" style="top:1143.55px;font-size:14px;color:#1f1f1f;font-weight:700;left:948.00px;">Conversione</div>
<svg class="r" style="left:1042.60px;top:1146.00px;" width="14" height="10" viewBox="1042.6 1146 14 10" fill="none"><path d="M1044.6,1148 L1049.6,1153.6 L1054.6,1148" stroke="#ababab" stroke-width="1.1" fill="none" stroke-linecap="round" stroke-linejoin="round"/></svg>
<div class="t" style="top:1143.55px;font-size:14px;color:#1f1f1f;font-weight:700;left:1071.70px;">Reddito</div>
<svg class="r" style="left:1133.60px;top:1146.00px;" width="14" height="10" viewBox="1133.6 1146 14 10" fill="none"><path d="M1135.6,1148 L1140.6,1153.6 L1145.6,1148" stroke="#ababab" stroke-width="1.1" fill="none" stroke-linecap="round" stroke-linejoin="round"/></svg>
<div class="t" style="top:1143.55px;font-size:14px;color:#1f1f1f;font-weight:700;left:1195.70px;">Ritorno</div>
<svg class="r" style="left:1254.20px;top:1146.00px;" width="14" height="10" viewBox="1254.2 1146 14 10" fill="none"><path d="M1256.2,1148 L1261.2,1153.6 L1266.2,1148" stroke="#ababab" stroke-width="1.1" fill="none" stroke-linecap="round" stroke-linejoin="round"/></svg>
<div class="r" style="left:1303.20px;top:1174.50px;width:87.80px;height:333.50px;background:#f7f2fe;border-radius:0px;"></div>
<div class="t" style="top:1200.04px;font-size:14.6px;color:#1a1a1a;font-weight:700;left:391.70px;width:169px;overflow:hidden;">Speciale Estate 2024</div>
<div class="t" style="top:1200.38px;font-size:14.2px;color:#2a2a2a;left:576.50px;">2.847</div>
<div class="t" style="top:1200.38px;font-size:14.2px;color:#2a2a2a;left:700.50px;">24,5 %</div>
<div class="t" style="top:1200.38px;font-size:14.2px;color:#2a2a2a;left:824.60px;">8,2 %</div>
<div class="t" style="top:1200.38px;font-size:14.2px;color:#2a2a2a;left:948.00px;">1,5 %</div>
<div class="t" style="top:1200.38px;font-size:14.2px;color:#27a047;left:1071.70px;">€ 12.450</div>
<div class="t" style="top:1200.38px;font-size:14.2px;color:#2e8b47;left:1195.70px;">875 %</div>
<svg class="r" style="left:1318.00px;top:1199.00px;" width="18" height="16" viewBox="1318 1199 18 16" fill="none"><path d="M1319.3,1207 Q1326.9,1196.6 1334.5,1207 Q1326.9,1217.4 1319.3,1207 Z" fill="#9d9d9d"/><circle cx="1326.9" cy="1207" r="3.2" fill="#f7f2fe"/><circle cx="1326.9" cy="1207" r="1.9" fill="#9d9d9d"/></svg>
<div class="t" style="top:1200.15px;font-size:14px;color:#505050;font-weight:700;left:1339.60px;">Entra</div>
<div class="r" style="left:375.00px;top:1240.30px;width:1016.00px;height:1.00px;background:#e6e6e6;border-radius:0px;"></div>
<div class="t" style="top:1267.04px;font-size:14.6px;color:#1a1a1a;font-weight:700;left:391.70px;width:169px;overflow:hidden;">Offerta Weekend Spa</div>
<div class="t" style="top:1255.38px;font-size:14.2px;color:#2a2a2a;left:576.50px;">1.293</div>
<div class="t" style="top:1267.38px;font-size:14.2px;color:#2a2a2a;left:700.50px;">31,2 %</div>
<div class="t" style="top:1267.38px;font-size:14.2px;color:#2a2a2a;left:824.60px;">12,1 %</div>
<div class="t" style="top:1267.38px;font-size:14.2px;color:#2a2a2a;left:948.00px;">2,2 %</div>
<div class="t" style="top:1267.38px;font-size:14.2px;color:#27a047;left:1071.70px;">€ 8.930</div>
<div class="t" style="top:1267.38px;font-size:14.2px;color:#2e8b47;left:1195.70px;">1381 %</div>
<svg class="r" style="left:1318.00px;top:1266.00px;" width="18" height="16" viewBox="1318 1266 18 16" fill="none"><path d="M1319.3,1274 Q1326.9,1263.6 1334.5,1274 Q1326.9,1284.4 1319.3,1274 Z" fill="#9d9d9d"/><circle cx="1326.9" cy="1274" r="3.2" fill="#f7f2fe"/><circle cx="1326.9" cy="1274" r="1.9" fill="#9d9d9d"/></svg>
<div class="t" style="top:1267.15px;font-size:14px;color:#505050;font-weight:700;left:1339.60px;">Entra</div>
<div class="r" style="left:375.00px;top:1307.30px;width:1016.00px;height:1.00px;background:#e6e6e6;border-radius:0px;"></div>
<div class="t" style="top:1334.04px;font-size:14.6px;color:#1a1a1a;font-weight:700;left:391.70px;width:169px;overflow:hidden;">Serie di benvenuto</div>
<div class="t" style="top:1334.38px;font-size:14.2px;color:#2a2a2a;left:576.50px;">847</div>
<div class="t" style="top:1334.38px;font-size:14.2px;color:#2a2a2a;left:700.50px;">42,1 %</div>
<div class="t" style="top:1334.38px;font-size:14.2px;color:#2a2a2a;left:824.60px;">15,8 %</div>
<div class="t" style="top:1334.38px;font-size:14.2px;color:#2a2a2a;left:948.00px;">2,1 %</div>
<div class="t" style="top:1334.38px;font-size:14.2px;color:#27a047;left:1071.70px;">€ 3.250</div>
<div class="t" style="top:1334.38px;font-size:14.2px;color:#2e8b47;left:1195.70px;">767 %</div>
<svg class="r" style="left:1318.00px;top:1333.00px;" width="18" height="16" viewBox="1318 1333 18 16" fill="none"><path d="M1319.3,1341 Q1326.9,1330.6 1334.5,1341 Q1326.9,1351.4 1319.3,1341 Z" fill="#9d9d9d"/><circle cx="1326.9" cy="1341" r="3.2" fill="#f7f2fe"/><circle cx="1326.9" cy="1341" r="1.9" fill="#9d9d9d"/></svg>
<div class="t" style="top:1334.15px;font-size:14px;color:#505050;font-weight:700;left:1339.60px;">Entra</div>
<div class="r" style="left:375.00px;top:1374.30px;width:1016.00px;height:1.00px;background:#e6e6e6;border-radius:0px;"></div>
<div class="t" style="top:1401.04px;font-size:14.6px;color:#1a1a1a;font-weight:700;left:391.70px;width:169px;overflow:hidden;">Speciale per viaggiatori d'affari</div>
<div class="t" style="top:1401.38px;font-size:14.2px;color:#2a2a2a;left:576.50px;">1.534</div>
<div class="t" style="top:1401.38px;font-size:14.2px;color:#2a2a2a;left:700.50px;">28,9 %</div>
<div class="t" style="top:1401.38px;font-size:14.2px;color:#2a2a2a;left:824.60px;">9,7 %</div>
<div class="t" style="top:1401.38px;font-size:14.2px;color:#2a2a2a;left:948.00px;">1,8 %</div>
<div class="t" style="top:1401.38px;font-size:14.2px;color:#27a047;left:1071.70px;">€ 7.890</div>
<div class="t" style="top:1401.38px;font-size:14.2px;color:#2e8b47;left:1195.70px;">1029 %</div>
<svg class="r" style="left:1318.00px;top:1400.00px;" width="18" height="16" viewBox="1318 1400 18 16" fill="none"><path d="M1319.3,1408 Q1326.9,1397.6 1334.5,1408 Q1326.9,1418.4 1319.3,1408 Z" fill="#9d9d9d"/><circle cx="1326.9" cy="1408" r="3.2" fill="#f7f2fe"/><circle cx="1326.9" cy="1408" r="1.9" fill="#9d9d9d"/></svg>
<div class="t" style="top:1401.15px;font-size:14px;color:#505050;font-weight:700;left:1339.60px;">Entra</div>
<div class="r" style="left:375.00px;top:1441.30px;width:1016.00px;height:1.00px;background:#e6e6e6;border-radius:0px;"></div>
<div class="t" style="top:1468.04px;font-size:14.6px;color:#1a1a1a;font-weight:700;left:391.70px;width:169px;overflow:hidden;">Pacchetto Famiglia Promo</div>
<div class="t" style="top:1468.38px;font-size:14.2px;color:#2a2a2a;left:576.50px;">2.143</div>
<div class="t" style="top:1468.38px;font-size:14.2px;color:#2a2a2a;left:700.50px;">26,8 %</div>
<div class="t" style="top:1468.38px;font-size:14.2px;color:#2a2a2a;left:824.60px;">7,4 %</div>
<div class="t" style="top:1468.38px;font-size:14.2px;color:#2a2a2a;left:948.00px;">1,2 %</div>
<div class="t" style="top:1468.38px;font-size:14.2px;color:#27a047;left:1071.70px;">€ 5.640</div>
<div class="t" style="top:1465.38px;font-size:14.2px;color:#2e8b47;left:1195.70px;">526 %</div>
<svg class="r" style="left:1318.00px;top:1467.00px;" width="18" height="16" viewBox="1318 1467 18 16" fill="none"><path d="M1319.3,1475 Q1326.9,1464.6 1334.5,1475 Q1326.9,1485.4 1319.3,1475 Z" fill="#9d9d9d"/><circle cx="1326.9" cy="1475" r="3.2" fill="#f7f2fe"/><circle cx="1326.9" cy="1475" r="1.9" fill="#9d9d9d"/></svg>
<div class="t" style="top:1468.15px;font-size:14px;color:#505050;font-weight:700;left:1339.60px;">Entra</div>
<div class="r" style="left:375.00px;top:1508.30px;width:1016.00px;height:1.00px;background:#e6e6e6;border-radius:0px;"></div>
<div class="r" style="left:355.00px;top:1549.00px;width:1056.00px;height:500.50px;background:#ffffff;border-radius:12px;box-shadow:0 0 0 1px rgba(0,0,0,0.03), 0 1px 2px rgba(0,0,0,0.035);"></div>
<div class="t" style="top:1575.15px;font-size:20.5px;color:#161616;font-weight:700;left:375.20px;">Performance per segmento</div>
<div class="r" style="left:375.00px;top:1632.20px;width:1016.00px;height:91.60px;background:#f9f9f9;border-radius:12px;"></div>
<div class="t" style="top:1662.58px;font-size:14.2px;color:#141414;letter-spacing:0.169px;-webkit-text-stroke:0.2px #141414;left:393.80px;">Ospiti VIP</div>
<div class="t" style="top:1680.47px;font-size:12.2px;color:#454545;letter-spacing:0.157px;left:393.80px;">8 campagne inviate</div>
<div class="r" style="left:882.10px;top:1641.10px;width:156.00px;height:73.80px;background:#0f4d24;border-radius:10px;"></div>
<div class="r" style="left:1049.50px;top:1641.10px;width:156.00px;height:73.80px;background:#2d0569;border-radius:10px;"></div>
<div class="r" style="left:1216.70px;top:1641.10px;width:156.00px;height:73.80px;background:#c0dbfd;border-radius:10px;"></div>
<div class="t" style="top:1648.27px;font-size:20px;color:#ffffff;font-weight:700;left:660.10px;width:600px;text-align:center;">45,2 %</div>
<div class="t" style="top:1671.57px;font-size:12.2px;color:#dde8e0;left:660.10px;width:600px;text-align:center;">Tasso di</div>
<div class="t" style="top:1691.67px;font-size:12.2px;color:#dde8e0;left:660.10px;width:600px;text-align:center;">apertura</div>
<div class="t" style="top:1654.87px;font-size:20px;color:#ffffff;font-weight:700;left:827.50px;width:600px;text-align:center;">18,3 %</div>
<div class="t" style="top:1675.67px;font-size:12.2px;color:#e6def2;left:827.50px;width:600px;text-align:center;">Tasso di</div>
<div class="t" style="top:1688.67px;font-size:12.2px;color:#e6def2;left:827.50px;width:600px;text-align:center;">clic</div>
<div class="t" style="top:1660.50px;font-size:21.5px;color:#0a0a0a;font-weight:700;letter-spacing:0.735px;left:995.07px;width:600px;text-align:center;">€ 28.900</div>
<div class="t" style="top:1682.37px;font-size:12.2px;color:#7a7f88;left:994.70px;width:600px;text-align:center;">Revenue</div>
<div class="r" style="left:375.00px;top:1733.40px;width:1016.00px;height:91.60px;background:#f9f9f9;border-radius:12px;"></div>
<div class="t" style="top:1763.78px;font-size:14.2px;color:#141414;letter-spacing:0.338px;-webkit-text-stroke:0.2px #141414;left:388.80px;">Business Travelers</div>
<div class="t" style="top:1781.67px;font-size:12.2px;color:#454545;letter-spacing:0.157px;left:388.80px;">8 campagne inviate</div>
<div class="r" style="left:887.90px;top:1742.90px;width:156.00px;height:73.80px;background:#0f4d24;border-radius:10px;"></div>
<div class="r" style="left:1055.20px;top:1742.90px;width:156.00px;height:73.80px;background:#2d0569;border-radius:10px;"></div>
<div class="r" style="left:1222.20px;top:1742.90px;width:156.00px;height:73.80px;background:#c0dbfd;border-radius:10px;"></div>
<div class="t" style="top:1750.07px;font-size:20px;color:#ffffff;font-weight:700;left:665.90px;width:600px;text-align:center;">38.7%</div>
<div class="t" style="top:1773.37px;font-size:12.2px;color:#dde8e0;left:665.90px;width:600px;text-align:center;">Tasso di</div>
<div class="t" style="top:1793.47px;font-size:12.2px;color:#dde8e0;left:665.90px;width:600px;text-align:center;">apertura</div>
<div class="t" style="top:1756.67px;font-size:20px;color:#ffffff;font-weight:700;left:833.20px;width:600px;text-align:center;">14.2%</div>
<div class="t" style="top:1777.47px;font-size:12.2px;color:#e6def2;left:833.20px;width:600px;text-align:center;">Tasso di</div>
<div class="t" style="top:1790.47px;font-size:12.2px;color:#e6def2;left:833.20px;width:600px;text-align:center;">clic</div>
<div class="t" style="top:1762.30px;font-size:21.5px;color:#0a0a0a;font-weight:700;letter-spacing:0.185px;left:1000.29px;width:600px;text-align:center;">€22.100</div>
<div class="t" style="top:1784.17px;font-size:12.2px;color:#7a7f88;left:1000.20px;width:600px;text-align:center;">Revenue</div>
<div class="r" style="left:375.00px;top:1835.90px;width:1016.00px;height:91.60px;background:#f9f9f9;border-radius:12px;"></div>
<div class="t" style="top:1866.28px;font-size:14.2px;color:#141414;letter-spacing:0.17px;-webkit-text-stroke:0.2px #141414;left:388.80px;">Spa Lovers</div>
<div class="t" style="top:1884.17px;font-size:12.2px;color:#454545;letter-spacing:0.157px;left:388.80px;">8 campagne inviate</div>
<div class="r" style="left:887.90px;top:1845.40px;width:156.00px;height:73.80px;background:#0f4d24;border-radius:10px;"></div>
<div class="r" style="left:1055.20px;top:1845.40px;width:156.00px;height:73.80px;background:#2d0569;border-radius:10px;"></div>
<div class="r" style="left:1222.20px;top:1845.40px;width:156.00px;height:73.80px;background:#c0dbfd;border-radius:10px;"></div>
<div class="t" style="top:1852.57px;font-size:20px;color:#ffffff;font-weight:700;left:665.90px;width:600px;text-align:center;">41.5%</div>
<div class="t" style="top:1875.87px;font-size:12.2px;color:#dde8e0;left:665.90px;width:600px;text-align:center;">Tasso di</div>
<div class="t" style="top:1895.97px;font-size:12.2px;color:#dde8e0;left:665.90px;width:600px;text-align:center;">apertura</div>
<div class="t" style="top:1859.17px;font-size:20px;color:#ffffff;font-weight:700;left:833.20px;width:600px;text-align:center;">16.8%</div>
<div class="t" style="top:1879.97px;font-size:12.2px;color:#e6def2;left:833.20px;width:600px;text-align:center;">Tasso di</div>
<div class="t" style="top:1892.97px;font-size:12.2px;color:#e6def2;left:833.20px;width:600px;text-align:center;">clic</div>
<div class="t" style="top:1864.80px;font-size:21.5px;color:#0a0a0a;font-weight:700;letter-spacing:0.185px;left:1000.29px;width:600px;text-align:center;">€18.700</div>
<div class="t" style="top:1886.67px;font-size:12.2px;color:#7a7f88;left:1000.20px;width:600px;text-align:center;">Revenue</div>
<div class="r" style="left:375.00px;top:1937.80px;width:1016.00px;height:91.60px;background:#f9f9f9;border-radius:12px;"></div>
<div class="t" style="top:1968.18px;font-size:14.2px;color:#141414;letter-spacing:0.096px;-webkit-text-stroke:0.2px #141414;left:388.80px;">Families</div>
<div class="t" style="top:1986.07px;font-size:12.2px;color:#454545;letter-spacing:0.157px;left:388.80px;">8 campagne inviate</div>
<div class="r" style="left:887.90px;top:1947.30px;width:156.00px;height:73.80px;background:#0f4d24;border-radius:10px;"></div>
<div class="r" style="left:1055.20px;top:1947.30px;width:156.00px;height:73.80px;background:#2d0569;border-radius:10px;"></div>
<div class="r" style="left:1222.20px;top:1947.30px;width:156.00px;height:73.80px;background:#c0dbfd;border-radius:10px;"></div>
<div class="t" style="top:1954.47px;font-size:20px;color:#ffffff;font-weight:700;left:665.90px;width:600px;text-align:center;">29.3%</div>
<div class="t" style="top:1977.77px;font-size:12.2px;color:#dde8e0;left:665.90px;width:600px;text-align:center;">Tasso di</div>
<div class="t" style="top:1997.87px;font-size:12.2px;color:#dde8e0;left:665.90px;width:600px;text-align:center;">apertura</div>
<div class="t" style="top:1961.07px;font-size:20px;color:#ffffff;font-weight:700;left:833.20px;width:600px;text-align:center;">11.2%</div>
<div class="t" style="top:1981.87px;font-size:12.2px;color:#e6def2;left:833.20px;width:600px;text-align:center;">Tasso di</div>
<div class="t" style="top:1994.87px;font-size:12.2px;color:#e6def2;left:833.20px;width:600px;text-align:center;">clic</div>
<div class="t" style="top:1966.70px;font-size:21.5px;color:#0a0a0a;font-weight:700;letter-spacing:0.185px;left:1000.29px;width:600px;text-align:center;">€15.400</div>
<div class="t" style="top:1988.57px;font-size:12.2px;color:#7a7f88;left:1000.20px;width:600px;text-align:center;">Revenue</div>
<div class="r" style="left:3px;top:2px;width:1440px;height:2079px;border-radius:10px;box-shadow:0 0 0 80px #000, inset -1px -1px 0 #fff;z-index:10;"></div>
<div class="r" style="left:0;top:0;width:1446px;height:1px;background:#8c8c8c;z-index:11;"></div>
<div class="r" style="left:0;top:2084px;width:1446px;height:1px;background:#8c8c8c;z-index:11;"></div>
<div class="r" style="left:0;top:0;width:1px;height:2085px;background:#8c8c8c;z-index:11;"></div>
<div class="r" style="left:1445px;top:0;width:1px;height:2085px;background:#8c8c8c;z-index:11;"></div>
</div>
</body></html>
